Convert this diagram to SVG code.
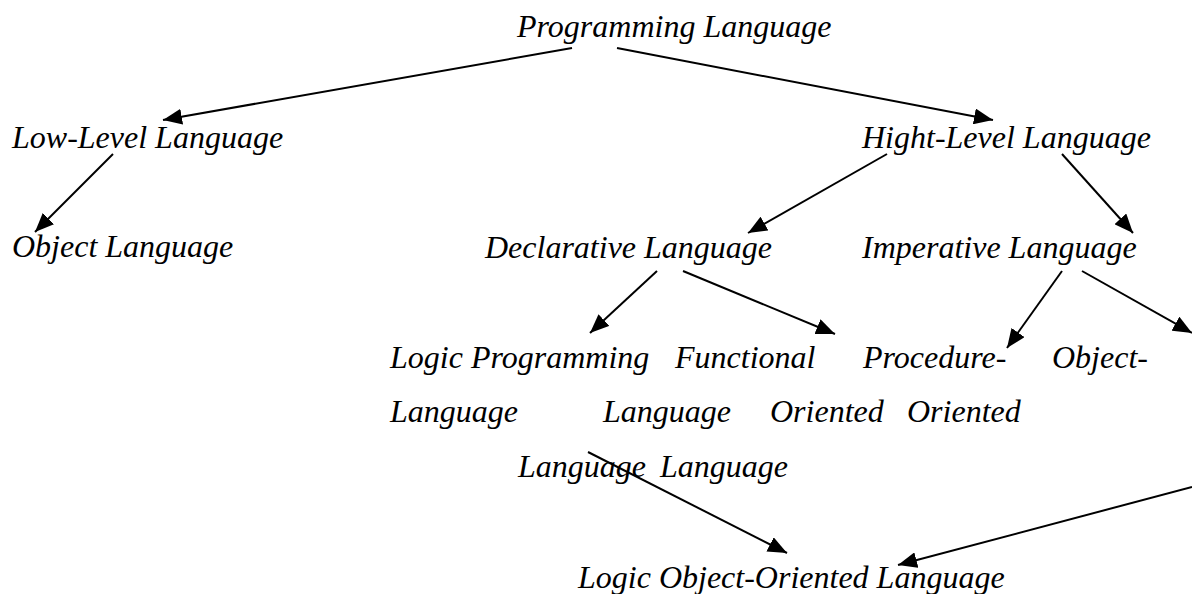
<svg xmlns="http://www.w3.org/2000/svg" width="1192" height="594" viewBox="0 0 1192 594">
<style>
  text { font-family: "Liberation Serif", "Times New Roman", serif; font-style: italic; font-size: 32px; fill: #000; }
  .c line { stroke: #000; stroke-width: 2; fill: none; }
</style>
<defs>
  <marker id="ah" markerUnits="userSpaceOnUse" markerWidth="20" markerHeight="16" refX="19" refY="8" orient="auto">
    <path d="M0,0 L19,8 L0,16 z" fill="#000"/>
  </marker>
</defs>
<rect width="1192" height="594" fill="#fff"/>
<g id="connectors" class="c">
  <line x1="572" y1="48" x2="163" y2="120" marker-end="url(#ah)"/>
  <line x1="617" y1="48" x2="993" y2="120" marker-end="url(#ah)"/>
  <line x1="113" y1="154" x2="35" y2="232" marker-end="url(#ah)"/>
  <line x1="887" y1="154" x2="748" y2="233" marker-end="url(#ah)"/>
  <line x1="1062" y1="154" x2="1133" y2="233" marker-end="url(#ah)"/>
  <line x1="657" y1="271" x2="590" y2="333" marker-end="url(#ah)"/>
  <line x1="683" y1="271" x2="835" y2="334" marker-end="url(#ah)"/>
  <line x1="1062" y1="271" x2="1007" y2="348" marker-end="url(#ah)"/>
  <line x1="1082" y1="271" x2="1192" y2="333" marker-end="url(#ah)"/>
  <line x1="588" y1="452" x2="787" y2="553" marker-end="url(#ah)"/>
  <line x1="1192" y1="487" x2="898" y2="565" marker-end="url(#ah)"/>
</g>
<g id="programming-language"><text x="517" y="37">Programming Language</text></g>
<g id="low-level-language"><text x="12" y="148">Low-Level Language</text></g>
<g id="hight-level-language"><text x="862" y="148">Hight-Level Language</text></g>
<g id="object-language"><text x="12" y="257">Object Language</text></g>
<g id="declarative-language"><text x="485" y="258">Declarative Language</text></g>
<g id="imperative-language"><text x="862" y="258">Imperative Language</text></g>
<g id="logic-programming-language">
  <text x="390" y="368">Logic Programming</text>
  <text x="390" y="422">Language</text>
</g>
<g id="functional-language">
  <text x="675" y="368">Functional</text>
  <text x="603" y="422">Language</text>
</g>
<g id="procedure-oriented-language">
  <text x="863" y="368">Procedure-</text>
  <text x="770" y="422">Oriented</text>
  <text x="518" y="477">Language</text>
</g>
<g id="object-oriented-language">
  <text x="1052" y="368">Object-</text>
  <text x="907" y="422">Oriented</text>
  <text x="660" y="477">Language</text>
</g>
<g id="logic-object-oriented-language"><text x="578" y="588">Logic Object-Oriented Language</text></g>
</svg>
